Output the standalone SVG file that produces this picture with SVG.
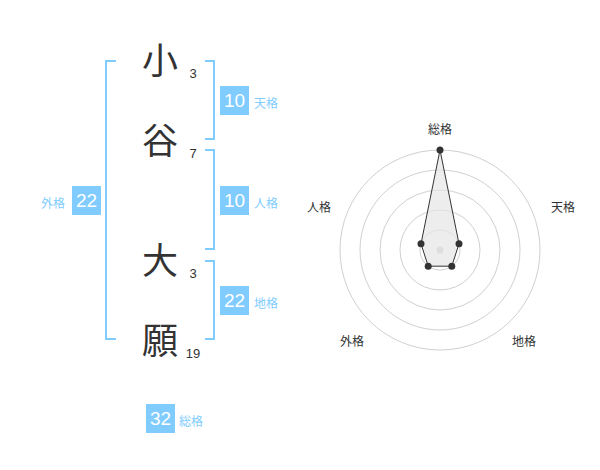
<svg xmlns="http://www.w3.org/2000/svg" width="600" height="470" viewBox="0 0 600 470">
<style>
text{font-family:"Liberation Sans","Noto Sans CJK JP",sans-serif}
.kj{font-size:36px;fill:#333;text-anchor:middle}
.st{font-size:13px;fill:#333;text-anchor:middle}
.box{fill:#80ccff}
.bn{font-size:19px;fill:#fff;text-anchor:middle}
.bl{font-size:12px;fill:#80ccff}
.br{fill:none;stroke:#80ccff;stroke-width:2}
.ring{fill:none;stroke:#d0d0d0;stroke-width:1}
.rl{font-size:12px;fill:#333;text-anchor:middle}
.pt{fill:#333}
</style>
<rect width="600" height="470" fill="#fff"/>
<g id="connectors">
<path class="br" d="M116,61 H106 V339 H116"/>
<path class="br" d="M205,61 H214 V139 H205"/>
<path class="br" d="M205,150 H214 V249 H205"/>
<path class="br" d="M205,261 H214 V339 H205"/>
</g>
<g id="char1"><text class="kj" x="160" y="74">小</text><text class="st" x="193" y="78">3</text></g>
<g id="char2"><text class="kj" x="160" y="154">谷</text><text class="st" x="193" y="158">7</text></g>
<g id="char3"><text class="kj" x="160" y="274">大</text><text class="st" x="193" y="278">3</text></g>
<g id="char4"><text class="kj" x="160" y="354">願</text><text class="st" x="193" y="358">19</text></g>
<g id="tenkaku"><rect class="box" x="220" y="86" width="29" height="29"/><text class="bn" x="234.5" y="107">10</text><text class="bl" x="254" y="108">天格</text></g>
<g id="jinkaku"><rect class="box" x="220" y="186" width="29" height="29"/><text class="bn" x="234.5" y="207">10</text><text class="bl" x="254" y="208">人格</text></g>
<g id="chikaku"><rect class="box" x="220" y="286" width="29" height="29"/><text class="bn" x="234.5" y="307">22</text><text class="bl" x="254" y="308">地格</text></g>
<g id="gaikaku"><rect class="box" x="72" y="186" width="29" height="29"/><text class="bn" x="86.5" y="207">22</text><text class="bl" x="65" y="208" text-anchor="end">外格</text></g>
<g id="soukaku"><rect class="box" x="146" y="404" width="29" height="29"/><text class="bn" x="160.5" y="425">32</text><text class="bl" x="179" y="426">総格</text></g>
<g id="radar">
<circle class="ring" cx="440" cy="250" r="20"/>
<circle class="ring" cx="440" cy="250" r="40"/>
<circle class="ring" cx="440" cy="250" r="60"/>
<circle class="ring" cx="440" cy="250" r="80"/>
<circle class="ring" cx="440" cy="250" r="100"/>
<circle cx="440" cy="250" r="3.5" fill="#ccc"/>
<polygon points="440,150 459,243.8 451.8,266.2 428.2,266.2 421,243.8" fill="#e6e6e6" fill-opacity="0.7" stroke="#333" stroke-width="1"/>
<circle class="pt" cx="440" cy="150" r="3.5"/>
<circle class="pt" cx="459" cy="243.8" r="3.5"/>
<circle class="pt" cx="451.8" cy="266.2" r="3.5"/>
<circle class="pt" cx="428.2" cy="266.2" r="3.5"/>
<circle class="pt" cx="421" cy="243.8" r="3.5"/>
<text class="rl" x="440" y="134">総格</text>
<text class="rl" x="563" y="212">天格</text>
<text class="rl" x="319" y="212">人格</text>
<text class="rl" x="352" y="346">外格</text>
<text class="rl" x="524" y="346">地格</text>
</g>
</svg>
